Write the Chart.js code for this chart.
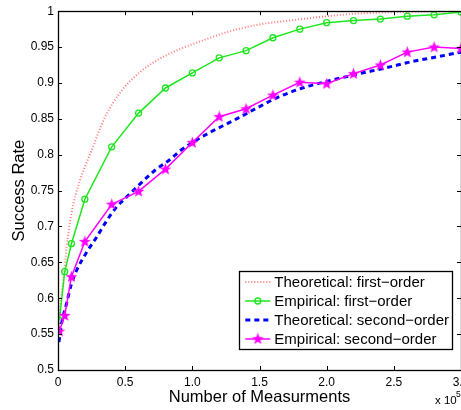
<!DOCTYPE html>
<html>
<head>
<meta charset="utf-8">
<script src="https://cdn.jsdelivr.net/npm/chart.js@4"></script>
<style>
  html, body { margin: 0; padding: 0; background: #fff; overflow: hidden; }
  #wrap { width: 475px; height: 410px; }
</style>
</head>
<body>
<div id="wrap"><canvas id="chart" width="475" height="410"></canvas></div>
<script>
// x values are in units of 10^5 measurements
const EMP_X = [0.01, 0.05, 0.1, 0.2, 0.4, 0.6, 0.8, 1.0, 1.2, 1.4, 1.6, 1.8, 2.0, 2.2, 2.4, 2.6, 2.8, 3.0]
const EMP_FIRST = [0.569, 0.637, 0.676, 0.738, 0.811, 0.858, 0.893, 0.914, 0.935, 0.945, 0.963, 0.975, 0.984, 0.987, 0.989, 0.993, 0.995, 0.999]
const EMP_SECOND = [0.554, 0.576, 0.630, 0.679, 0.731, 0.749, 0.780, 0.817, 0.853, 0.864, 0.883, 0.901, 0.899, 0.913, 0.925, 0.943, 0.950, 0.948]

const THEO_FIRST_X = [0.005, 0.015, 0.04, 0.064, 0.1, 0.163, 0.25, 0.349, 0.473, 0.622, 0.77, 0.931, 1.105, 1.278, 1.5, 1.75, 2.0, 2.24, 2.49, 2.75, 3.0]
const THEO_FIRST = [0.558, 0.588, 0.625, 0.671, 0.718, 0.764, 0.806, 0.852, 0.889, 0.917, 0.935, 0.949, 0.961, 0.972, 0.9815, 0.9875, 0.993, 0.9968, 0.9986, 0.9995, 1.0]

const THEO_SECOND_X = [0.007, 0.03, 0.064, 0.1, 0.139, 0.213, 0.287, 0.362, 0.436, 0.51, 0.56, 0.609, 0.72, 0.832, 0.906, 1.018, 1.14, 1.278, 1.34, 1.5, 1.625, 1.82, 2.02, 2.22, 2.44, 2.64, 2.84, 3.0]
const THEO_SECOND = [0.539, 0.568, 0.593, 0.620, 0.639, 0.664, 0.685, 0.708, 0.727, 0.741, 0.750, 0.759, 0.778, 0.793, 0.805, 0.819, 0.832, 0.845, 0.851, 0.867, 0.879, 0.893, 0.903, 0.912, 0.921, 0.930, 0.937, 0.943]

const LABELS = ["Theoretical: first\u2212order", "Empirical: first\u2212order", "Theoretical: second\u2212order", "Empirical: second\u2212order"]
const X_TITLE = "Number of Measurments"
const Y_TITLE = "Success Rate"

const FONT = "'Liberation Sans', Arial, Helvetica, sans-serif"
const RED = "#ff7a7a"
const GREEN = "#1ee61e"
const BLUE = "#0000ff"
const MAGENTA = "#ff00ff"

function points(xs, ys) {
  return xs.map(function (x, i) { return { x: x, y: ys[i] } })
}

function starImage(color) {
  const c = document.createElement("canvas")
  c.width = 13
  c.height = 13
  const g = c.getContext("2d")
  g.beginPath()
  for (let i = 0; i < 10; i++) {
    const r = i % 2 === 0 ? 6.2 : 2.6
    const a = -Math.PI / 2 + i * Math.PI / 5
    const px = 6.5 + r * Math.cos(a)
    const py = 6.8 + r * Math.sin(a)
    if (i === 0) g.moveTo(px, py)
    else g.lineTo(px, py)
  }
  g.closePath()
  g.fillStyle = color
  g.fill()
  return c
}

const STAR = starImage(MAGENTA)

const frame = {
  id: "frame",
  afterDraw(chart) {
    const ctx = chart.ctx
    const a = chart.chartArea
    const xs = chart.scales.x
    const ys = chart.scales.y
    ctx.save()
    ctx.strokeStyle = "#000"
    ctx.lineWidth = 1
    ctx.beginPath()
    xs.ticks.forEach(function (t) {
      const px = Math.round(xs.getPixelForValue(t.value)) + 0.5
      ctx.moveTo(px, a.bottom); ctx.lineTo(px, a.bottom - 4)
      ctx.moveTo(px, a.top); ctx.lineTo(px, a.top + 4)
    })
    ys.ticks.forEach(function (t) {
      const py = Math.round(ys.getPixelForValue(t.value)) + 0.5
      ctx.moveTo(a.left, py); ctx.lineTo(a.left + 4, py)
      ctx.moveTo(a.right, py); ctx.lineTo(a.right - 4, py)
    })
    ctx.stroke()
    ctx.lineWidth = 1.3
    ctx.strokeRect(Math.round(a.left) + 0.5, Math.round(a.top) + 0.5, Math.round(a.right - a.left), Math.round(a.bottom - a.top))

    // legend box
    ctx.font = "15px " + FONT
    let tw = 0
    chart.data.datasets.forEach(function (d) { tw = Math.max(tw, ctx.measureText(d.label).width) })
    const boxW = 5 + 25 + 4 + tw + 4
    const rowH = 19
    const boxH = 4 * rowH + 2
    const bx = a.right - 9 - boxW
    const by = a.bottom - 21 - boxH
    ctx.fillStyle = "#fff"
    ctx.fillRect(bx, by, boxW, boxH)
    ctx.lineWidth = 1.3
    ctx.strokeStyle = "#000"
    ctx.strokeRect(Math.round(bx) + 0.5, Math.round(by) + 0.5, Math.round(boxW), Math.round(boxH))
    chart.data.datasets.forEach(function (d, i) {
      const cy = by + 11 + i * rowH
      const x0 = bx + 6
      const x1 = x0 + 25
      ctx.save()
      ctx.strokeStyle = d.borderColor
      ctx.lineWidth = d.borderWidth
      ctx.setLineDash(d.borderDash || [])
      ctx.beginPath()
      ctx.moveTo(x0, cy); ctx.lineTo(x1, cy)
      ctx.stroke()
      ctx.restore()
      const mx = (x0 + x1) / 2
      if (d.pointStyle === "circle" && d.pointRadius > 0) {
        ctx.beginPath()
        ctx.arc(mx, cy, d.pointRadius, 0, Math.PI * 2)
        ctx.strokeStyle = d.borderColor
        ctx.lineWidth = d.pointBorderWidth
        ctx.stroke()
      } else if (d.pointStyle === STAR) {
        ctx.drawImage(STAR, mx - 6.5, cy - 6.8)
      }
      ctx.fillStyle = "#000"
      ctx.textBaseline = "middle"
      ctx.textAlign = "left"
      ctx.fillText(d.label, x1 + 4, cy + 1)
    })

    // exponent label
    ctx.fillStyle = "#000"
    ctx.textBaseline = "alphabetic"
    ctx.textAlign = "left"
    ctx.font = "11.5px " + FONT
    ctx.fillText("x 10", 435, 404)
    ctx.font = "8.5px " + FONT
    ctx.fillText("5", 456, 397)
    ctx.restore()
  }
}

new Chart(document.getElementById("chart"), {
  type: "line",
  data: {
    datasets: [
      {
        label: LABELS[0],
        data: points(THEO_FIRST_X, THEO_FIRST),
        borderColor: RED,
        borderWidth: 2,
        borderDash: [1, 2],
        pointRadius: 0,
        cubicInterpolationMode: "monotone",
        order: 4,
      },
      {
        label: LABELS[1],
        data: points(EMP_X, EMP_FIRST),
        borderColor: GREEN,
        borderWidth: 1.5,
        pointStyle: "circle",
        pointRadius: 3,
        pointBorderWidth: 1.3,
        pointBackgroundColor: "rgba(0,0,0,0)",
        pointBorderColor: GREEN,
        tension: 0,
        order: 3,
      },
      {
        label: LABELS[2],
        data: points(THEO_SECOND_X, THEO_SECOND),
        borderColor: BLUE,
        borderWidth: 3,
        borderDash: [5, 4],
        pointRadius: 0,
        cubicInterpolationMode: "monotone",
        order: 2,
      },
      {
        label: LABELS[3],
        data: points(EMP_X, EMP_SECOND),
        borderColor: MAGENTA,
        borderWidth: 1.5,
        pointStyle: STAR,
        pointRadius: 6,
        tension: 0,
        order: 1,
      },
    ],
  },
  options: {
    responsive: false,
    animation: false,
    layout: { padding: { top: 10, right: 14, left: 0, bottom: 0 } },
    plugins: { legend: { display: false }, tooltip: { enabled: false } },
    scales: {
      x: {
        type: "linear",
        min: 0,
        max: 3,
        grid: { display: false, drawTicks: false },
        border: { display: false },
        ticks: { stepSize: 0.5, padding: 5, color: "#000", font: { family: FONT, size: 12 }, maxRotation: 0 },
        title: { display: true, text: X_TITLE, color: "#000", font: { family: FONT, size: 16.5 }, padding: { top: 0, bottom: 3 } },
        afterFit: function (scale) { scale.height = 40 },
      },
      y: {
        min: 0.5,
        max: 1,
        grid: { display: false, drawTicks: false },
        border: { display: false },
        ticks: {
          stepSize: 0.05,
          padding: 4,
          color: "#000",
          font: { family: FONT, size: 12 },
          callback: function (v) { return String(Math.round(v * 100) / 100) },
        },
        title: { display: true, text: Y_TITLE, color: "#000", font: { family: FONT, size: 16.5 }, padding: { top: 10, bottom: 0 } },
        afterFit: function (scale) { scale.width = 58 },
      },
    },
  },
  plugins: [frame],
})
</script>
</body>
</html>
